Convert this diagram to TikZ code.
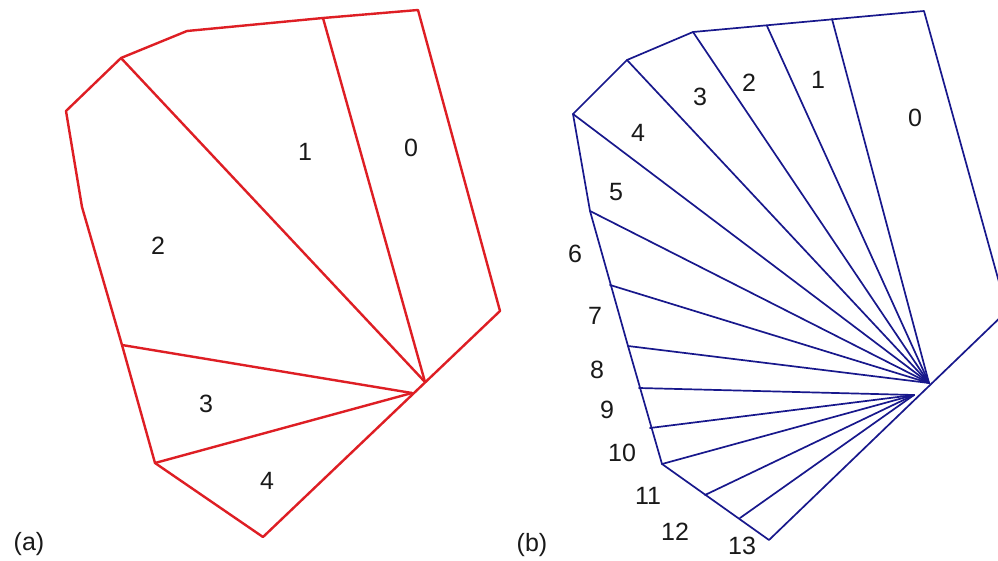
\documentclass[tikz,border=0pt]{standalone}
\usepackage{fontspec}
\setmainfont{Liberation Sans}
\definecolor{myred}{RGB}{222,30,36}
\definecolor{myblue}{RGB}{24,24,140}
\definecolor{mytext}{RGB}{25,25,25}
\begin{document}
\begin{tikzpicture}[x=1pt,y=-1pt,
  redline/.style={draw=myred, line width=2.4pt, line join=round, line cap=round},
  blueline/.style={draw=myblue, line width=1.7pt, line join=round, line cap=round},
  lbl/.style={font=\fontsize{25}{29}\selectfont, inner sep=0pt, text=mytext}]
\useasboundingbox (0,0) rectangle (998,561);
\fill[white] (0,0) rectangle (998,561);
\clip (0,0) rectangle (998,561);
% ---------- panel (a) ----------
\coordinate (a0) at (418,10);
\coordinate (a1) at (323,18);
\coordinate (a2) at (187,31);
\coordinate (a3) at (121,58);
\coordinate (a4) at (66,111);
\coordinate (a5) at (82,207);
\coordinate (a6) at (122,345);
\coordinate (a7) at (155,463);
\coordinate (a8) at (263,537);
\coordinate (a9) at (500,311);
\coordinate (ah) at (425,382);
\coordinate (ah2) at (412,393);
\draw[redline] (a0) -- (a1) -- (a2) -- (a3) -- (a4) -- (a5) -- (a6) -- (a7) -- (a8) -- (a9) -- cycle;
\draw[redline] (a1) -- (ah);
\draw[redline] (a3) -- (ah);
\draw[redline] (a6) -- (ah2);
\draw[redline] (a7) -- (ah2);
\node[lbl] (la0) at (411,148) {0};
\node[lbl] (la1) at (305,152) {1};
\node[lbl] (la2) at (158,246) {2};
\node[lbl] (la3) at (206,404) {3};
\node[lbl] (la4) at (267,481) {4};
\node[lbl] (capa) at (29,544) {(a)};
% ---------- panel (b) ----------
\coordinate (b0) at (924,11);
\coordinate (b1) at (832,19);
\coordinate (b2) at (767,26);
\coordinate (b3) at (693,32);
\coordinate (b4) at (627,60);
\coordinate (b5) at (573,114);
\coordinate (b6) at (590,211);
\coordinate (b7) at (610,285);
\coordinate (b8) at (628,346);
\coordinate (b9) at (639,388);
\coordinate (b10) at (650,428);
\coordinate (b11) at (662,464);
\coordinate (b12) at (705,495);
\coordinate (b13) at (740,518);
\coordinate (b14) at (769,540);
\coordinate (b15) at (1007,311);
\coordinate (bh) at (929,383);
\coordinate (bh2) at (914,395);
\draw[blueline] (b0) -- (b3) -- (b4) -- (b5) -- (b6) -- (b8) -- (b11) -- (b14) -- (b15) -- cycle;
\foreach \i in {1,...,8} { \draw[blueline] (b\i) -- (bh); }
\foreach \i in {9,...,13} { \draw[blueline] (b\i) -- (bh2); }
\node[lbl] (lb0) at (915,118) {0};
\node[lbl] (lb1) at (818,80) {1};
\node[lbl] (lb2) at (749,83) {2};
\node[lbl] (lb3) at (700,97) {3};
\node[lbl] (lb4) at (638,133) {4};
\node[lbl] (lb5) at (616,192) {5};
\node[lbl] (lb6) at (575,254) {6};
\node[lbl] (lb7) at (595,316) {7};
\node[lbl] (lb8) at (597,370) {8};
\node[lbl] (lb9) at (607,410) {9};
\node[lbl] (lb10) at (622,453) {10};
\node[lbl] (lb11) at (648,496) {11};
\node[lbl] (lb12) at (675,532) {12};
\node[lbl] (lb13) at (742,546) {13};
\node[lbl] (capb) at (532,545) {(b)};
\end{tikzpicture}
\end{document}
